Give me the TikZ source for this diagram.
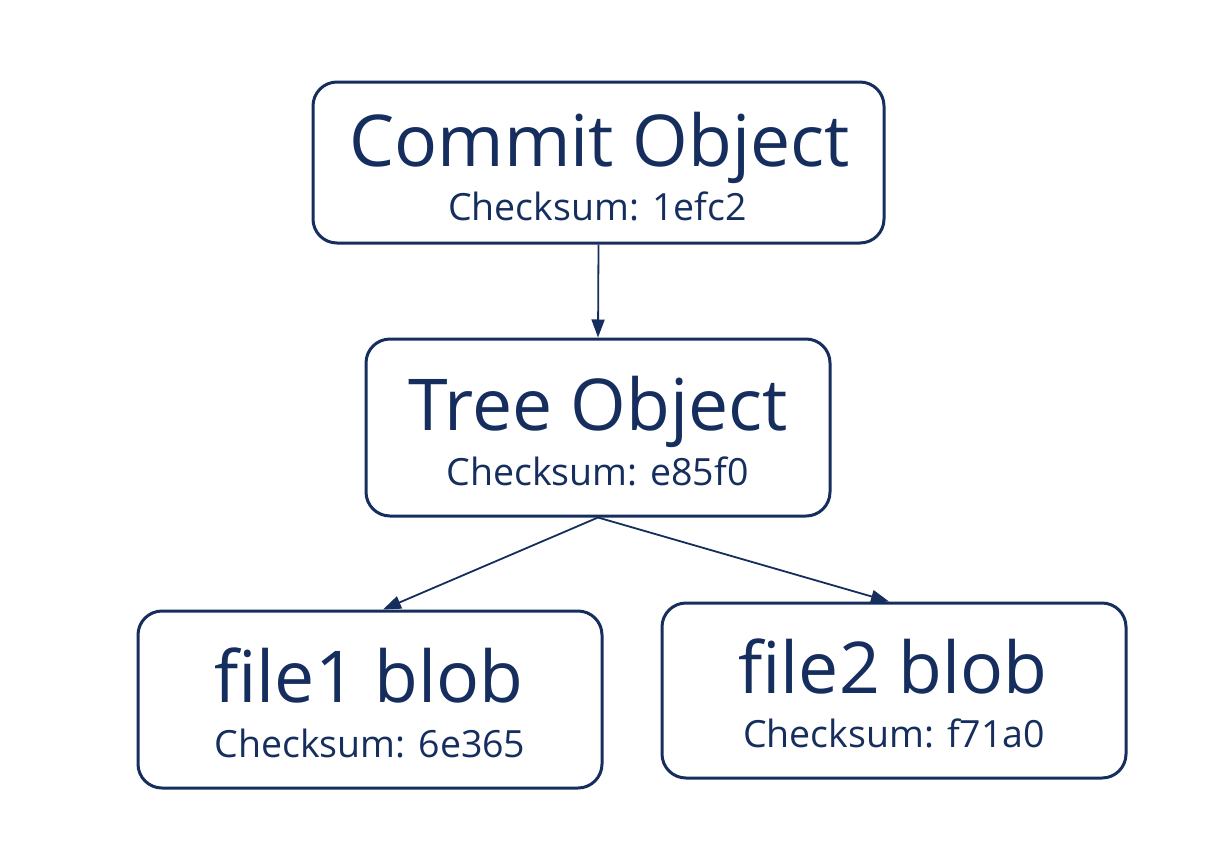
\documentclass[tikz,border=0pt]{standalone}
\usepackage{fontspec}
\setmainfont{Open Sans}
\usetikzlibrary{arrows.meta,calc}
\definecolor{navy}{HTML}{152E5E}
\tikzset{
  objbox/.style={draw=navy, line width=3pt, rounded corners=24pt, inner sep=0pt},
  titletxt/.style={anchor=base, text=navy, inner sep=0pt, font=\fontsize{71.5}{76}\selectfont},
  sumtxt/.style={anchor=base, text=navy, inner sep=0pt, font=\fontsize{37.5}{40}\selectfont},
  conn/.style={draw=navy, line width=1.8pt, -{Triangle[length=18pt,width=13pt]}}
}
\begin{document}
\begin{tikzpicture}[x=1pt,y=-1pt]
\useasboundingbox (0,0) rectangle (1214,862);
% boxes
\node[objbox, minimum width=571pt, minimum height=161pt] (commit) at (598.5,162.5) {};
\node[objbox, minimum width=464pt, minimum height=177pt] (tree) at (598,427.5) {};
\node[objbox, minimum width=464pt, minimum height=177pt] (f1) at (370,699.5) {};
\node[objbox, minimum width=464pt, minimum height=175pt] (f2) at (894,690.5) {};
% texts
\node[titletxt] (t1) at (599.5,166) {Commit Object};
\node[sumtxt] (s1) at (597.5,220) {Checksum: 1efc2};
\node[titletxt] (t2) at (598,430) {Tree Object};
\node[sumtxt] (s2) at (597.5,485) {Checksum: e85f0};
\node[titletxt] (t3) at (369,702) {file1 blob};
\node[sumtxt] (s3) at (370,757) {Checksum: 6e365};
\node[titletxt] (t4) at (893,693) {file2 blob};
\node[sumtxt] (s4) at (894,747) {Checksum: f71a0};
% connectors
\coordinate (f1in) at ($(f1.north)+(13,0)$);
\coordinate (f2in) at ($(f2.north)+(-5,0)$);
\draw[conn] (commit.south) -- (tree.north);
\draw[conn] (tree.south) -- (f1in);
\draw[conn] (tree.south) -- (f2in);
\end{tikzpicture}
\end{document}
